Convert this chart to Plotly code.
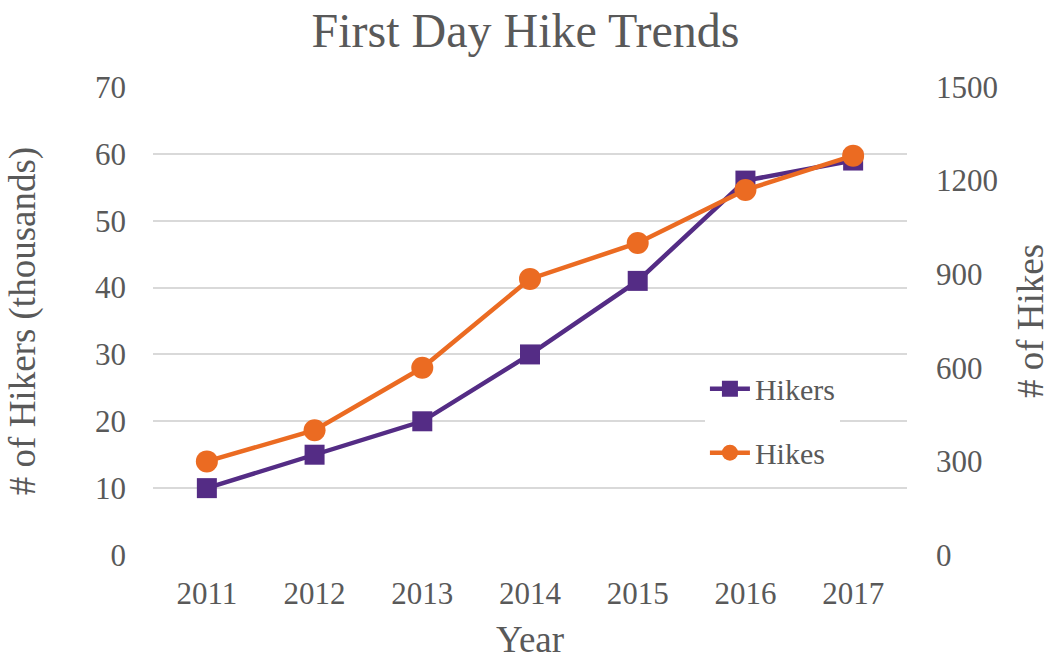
import plotly.graph_objects as go

years = ["2011", "2012", "2013", "2014", "2015", "2016", "2017"]
hikers_thousands = [10, 15, 20, 30, 41, 56, 59]
hikes = [300, 400, 600, 885, 1000, 1170, 1280]

PURPLE = "#542C85"
ORANGE = "#EB6B22"
TEXT = "#595959"
FONT = "Liberation Serif, Times New Roman, serif"

fig = go.Figure()
fig.add_trace(go.Scatter(
    x=years, y=hikers_thousands, name="Hikers", mode="lines+markers",
    line=dict(color=PURPLE, width=4.5),
    marker=dict(symbol="square", size=20, color=PURPLE),
    legendgroup="a", yaxis="y",
))
fig.add_trace(go.Scatter(
    x=years, y=hikes, name="Hikes", mode="lines+markers",
    line=dict(color=ORANGE, width=4.5),
    marker=dict(symbol="circle", size=22, color=ORANGE),
    legendgroup="b", yaxis="y2",
))

fig.update_layout(
    width=1051, height=660,
    margin=dict(l=153, r=144, t=87, b=105, autoexpand=False),
    paper_bgcolor="white", plot_bgcolor="white",
    font=dict(family=FONT, color=TEXT, size=31),
    title=dict(text="First Day Hike Trends", x=0.5, xanchor="center",
               y=0.955, yanchor="middle", font=dict(size=48, color=TEXT)),
    xaxis=dict(type="category", range=[-0.5, 6.5], showgrid=False,
               showline=False, zeroline=False, ticks="", automargin=False,
               ticklabelstandoff=17,
               tickfont=dict(size=31, color=TEXT),
               title=dict(text="Year", font=dict(size=37, color=TEXT), standoff=31)),
    yaxis=dict(range=[0, 70], dtick=10, showgrid=True, gridcolor="#D9D9D9",
               gridwidth=1.5, zeroline=False, showline=False, ticks="",
               automargin=False, ticklabelstandoff=26,
               tickfont=dict(size=31, color=TEXT),
               title=dict(text="# of Hikers (thousands)", font=dict(size=37, color=TEXT),
                          standoff=48)),
    yaxis2=dict(range=[0, 1500], dtick=300, overlaying="y", side="right",
                showgrid=False, zeroline=False, showline=False, ticks="",
                automargin=False, ticklabelstandoff=28,
                tickfont=dict(size=31, color=TEXT),
                title=dict(text="# of Hikes", font=dict(size=37, color=TEXT),
                           standoff=45)),
    legend=dict(x=0.732, y=0.411, xanchor="left", yanchor="top",
                bgcolor="white", font=dict(size=30, color=TEXT),
                traceorder="grouped", tracegroupgap=22, itemwidth=40),
    showlegend=True,
)

fig.write_html("out.html")
